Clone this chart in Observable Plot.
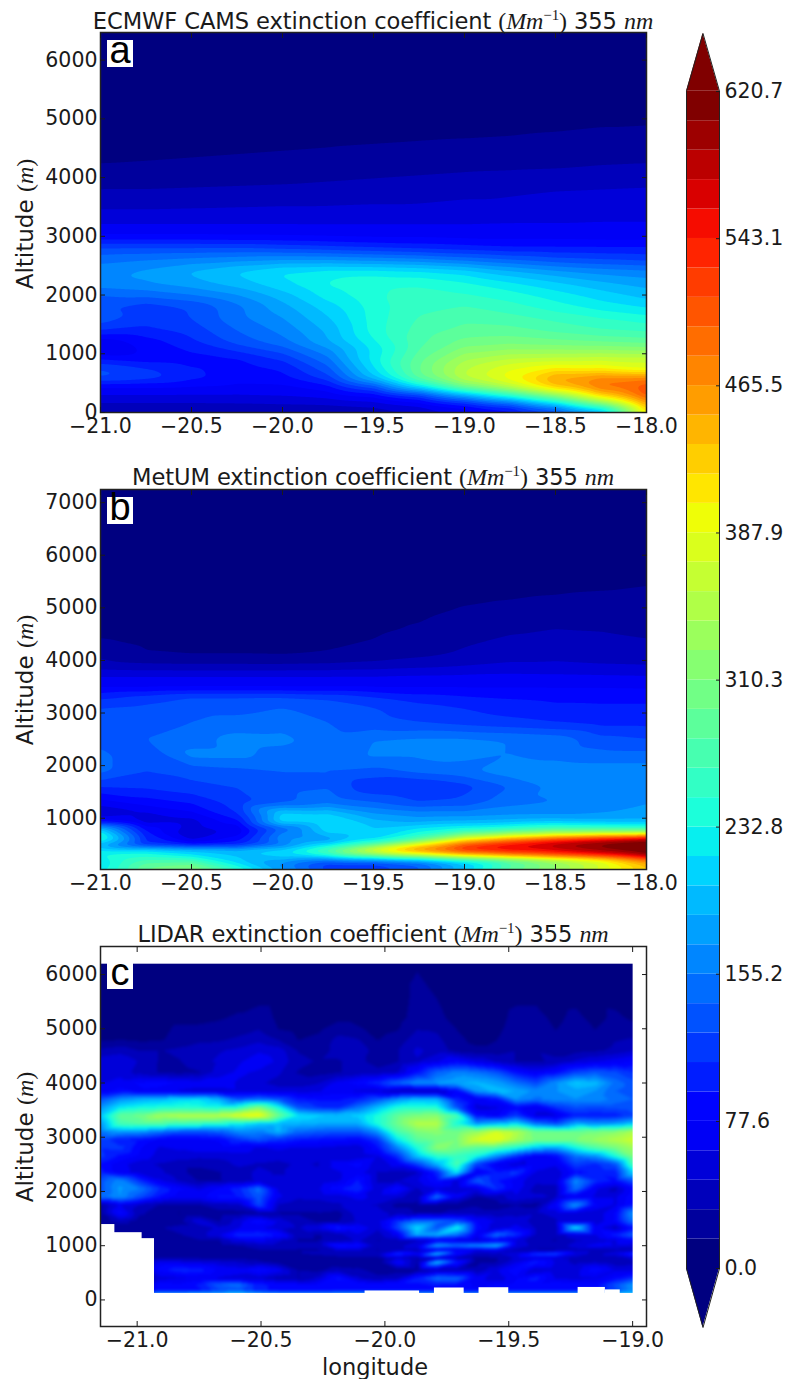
<!DOCTYPE html>
<html><head><meta charset="utf-8">
<script src="https://cdn.jsdelivr.net/npm/d3@7"></script>
<script src="https://cdn.jsdelivr.net/npm/@observablehq/plot@0.6"></script>
<style>
html,body{margin:0;padding:0;background:#fff}
#page{position:relative;width:785px;height:1379px;overflow:hidden;font-family:"DejaVu Sans";color:#1a1a1a}
#page>div.p{position:absolute}
.t{position:absolute;left:0;width:746px;text-align:center;font-size:22.6px;white-space:nowrap;line-height:24px;letter-spacing:-.1px}
.m{font-family:"Liberation Serif";font-style:italic;font-size:24px}
.m.u{font-style:normal}
sup{font-size:15px;line-height:0;font-family:"Liberation Serif"}
.yl{position:absolute;left:25px;font-size:23px;white-space:nowrap;transform:translate(-50%,-50%) rotate(-90deg)}
.yl .m{font-size:24px}
.tag{position:absolute;left:107px;width:26px;height:27px;background:#fff;color:#000;font-family:"Liberation Sans";font-size:38px;line-height:26px;text-align:center}
.tag span{position:relative;top:-3px}
</style></head><body><div id="page"></div>
<script>
const titles = ["ECMWF CAMS extinction coefficient", "MetUM extinction coefficient", "LIDAR extinction coefficient"];
const panelTags = ["a", "b", "c"];
const colorbarTicks = [0, 77.6, 155.2, 232.8, 310.3, 387.9, 465.5, 543.1, 620.7];
const levelStep = 15.52;
const levelCount = 40;
const arrowTipHigh = 651.3, arrowTipLow = -31.1;

const aLon = [-21,-20.75,-20.5,-20.25,-20,-19.75,-19.5,-19.25,-19,-18.75,-18.5,-18.25,-18];
const aAlt = [6470,5500,5000,4600,4200,3800,3500,3200,3000,2800,2600,2400,2200,2000,1800,1600,1400,1200,1050,900,750,600,450,300,150,0];
const aRows = [
[5,5,5,5,5,5,5,5,5,5,5,5,5],
[5,5,5,5,5,5,5,5,6,6,6,6,7],
[6,6,6,6,6,7,7,8,8,9,10,12,13],
[10,10,11,12,13,14,15,16,17,18,20,22,22],
[16,17,18,19,20,21,23,25,27,28,29,31,32],
[31,31,32,33,34,36,38,40,42,44,46,47,48],
[44,44,45,46,47,47,48,48,50,50,52,52,52],
[62,62,62,62,62,62,62,62,62,63,63,64,64],
[80,80,80,78,78,76,74,74,72,72,72,70,70],
[125,125,125,125,120,115,110,105,100,95,95,95,95],
[150,155,160,165,170,170,165,160,150,140,130,125,120],
[165,175,190,205,220,225,225,220,210,190,175,165,160],
[165,170,180,195,215,235,245,245,235,220,205,190,180],
[140,145,155,170,195,225,245,255,250,240,225,210,195],
[125,115,125,150,180,210,240,260,265,255,240,225,215],
[135,115,125,150,170,200,240,265,275,270,260,250,240],
[110,105,115,140,160,190,240,270,285,285,275,265,260],
[65,85,105,130,150,185,230,275,300,305,300,295,290],
[60,80,95,110,130,165,220,280,320,330,330,330,325],
[95,85,85,90,110,150,225,290,340,360,365,370,370],
[125,110,95,85,95,135,215,295,355,385,405,400,380],
[130,120,100,85,90,120,200,290,360,400,455,470,470],
[80,80,78,75,75,90,135,225,310,365,440,490,510],
[62,62,62,62,64,70,85,120,190,255,330,430,510],
[45,45,45,46,48,50,55,70,100,140,210,310,450],
[30,30,30,30,30,30,35,45,60,75,110,170,400]];

const bLon = [-21,-20.75,-20.5,-20.25,-20,-19.75,-19.5,-19.25,-19,-18.75,-18.5,-18.25,-18];
const bAlt = [7250,6000,5500,5000,4600,4300,4100,3900,3700,3500,3300,3100,2800,2500,2200,1900,1600,1300,1100,950,800,700,600,500,400,300,200,100,25];
const bRows = [
[5,5,5,5,5,5,5,5,5,5,5,5,5],
[5,5,5,5,5,5,5,5,5,5,5,5,6],
[6,6,6,6,6,6,7,8,9,10,11,12,14],
[8,7,7,7,7,8,10,12,16,18,20,22,23],
[12,10,9,9,9,10,13,17,22,28,31,30,28],
[18,14,13,13,13,14,17,23,30,36,38,36,33],
[28,17,15.5,15.5,15,17,22,28,34,40,42,40,38],
[38,35,34,34,34,35,38,42,46,50,50,48,47],
[62,62,62,62,62,62,62,64,65,66,65,64,63],
[75,75,76,76,76,76,76,76,76,76,76,76,75],
[105,115,125,125,125,120,110,100,95,92,90,90,90],
[125,128,135,135,140,135,125,115,108,100,96,95,95],
[125,132,140,145,148,140,130,125,120,115,110,105,105],
[132,140,148,162,160,145,155,158,158,155,150,130,125],
[145,125,160,160,148,140,158,158,157,155,150,145,145],
[145,125,130,135,140,140,135,145,152,165,165,165,165],
[110,112,120,125,135,138,110,105,118,140,160,170,165],
[70,85,95,115,135,150,140,125,130,150,155,160,170],
[45,60,75,110,205,200,170,160,160,165,165,170,175],
[80,50,55,90,215,220,190,180,185,190,195,190,190],
[195,90,55,65,140,215,205,220,235,250,270,265,260],
[235,100,45,70,160,200,200,240,300,340,370,390,400],
[245,110,60,90,170,170,215,280,400,465,520,560,600],
[180,105,90,100,150,215,285,400,505,555,590,615,625],
[215,215,200,190,210,280,395,480,540,560,570,600,630],
[235,240,215,200,215,250,310,360,425,470,510,545,600],
[220,265,265,205,180,150,165,190,240,290,340,390,480],
[215,290,300,230,160,110,110,130,190,270,320,370,430],
[230,295,320,255,180,125,120,145,210,290,330,380,440]];

const cLon = [-21.15,-21.07,-20.99,-20.91,-20.83,-20.75,-20.67,-20.59,-20.51,-20.43,-20.35,-20.27,-20.19,-20.11,-20.03,-19.95,-19.87,-19.79,-19.71,-19.63,-19.55,-19.47,-19.39,-19.31,-19.23,-19.15,-19.07,-19];
const cAlt = [6200,5600,5200,5000,4800,4600,4400,4200,4000,3850,3700,3550,3400,3250,3100,2950,2800,2650,2500,2350,2200,2050,1900,1750,1600,1450,1330,1200,1100,1000,920,850,770,700,550,400,280,175,130];
const cRows = [
[8,8,8,8,8,8,8,8,8,8,8,8,8,8,8,8,14,12,8,8,8,8,8,8,8,8,8,8],
[8,8,8,8,8,8,8,8,8,8,8,8,8,8,8,8,20,15,8,8,8,12,12,8,10,10,8,8],
[8,8,8,10,12,12,14,18,25,12,8,8,10,10,8,10,22,20,10,8,10,20,20,12,20,10,20,12],
[8,8,10,12,18,18,20,22,30,15,10,12,25,18,10,14,30,28,15,8,12,22,22,15,22,15,25,22],
[12,15,12,14,20,25,28,35,42,30,15,20,35,32,15,22,40,35,20,10,15,28,28,20,24,20,30,32],
[35,40,30,30,35,45,45,50,60,55,30,25,35,40,25,30,50,40,25,20,20,30,30,25,25,28,35,45],
[55,60,45,30,30,40,50,60,70,60,35,30,30,35,25,30,45,60,80,60,45,30,28,35,50,60,70,80],
[60,55,40,30,25,30,55,65,60,50,30,25,30,35,35,45,90,140,160,150,130,90,70,85,120,135,125,110],
[60,70,80,85,75,70,70,60,50,40,38,45,70,85,105,140,170,175,185,190,180,150,125,170,205,195,150,130],
[70,85,75,70,60,55,55,60,60,55,55,60,70,60,55,40,35,40,80,170,195,185,165,170,180,170,140,130],
[130,170,185,195,210,215,190,130,150,130,95,90,90,100,130,170,195,190,100,70,90,170,150,165,170,165,150,140],
[170,220,235,240,245,240,235,250,310,235,130,110,105,150,195,240,245,240,130,55,60,85,65,110,130,125,130,135],
[200,290,300,340,350,355,360,385,400,300,220,205,200,205,240,290,310,320,270,90,75,115,60,60,100,95,100,120],
[170,270,280,280,265,260,250,230,205,195,190,185,185,185,240,300,350,350,240,170,190,215,150,125,180,170,175,200],
[150,175,170,150,130,130,135,165,160,190,145,135,130,130,170,270,310,320,300,330,375,350,300,295,300,305,320,345],
[120,95,90,75,75,75,80,110,130,110,95,90,85,80,110,220,285,300,310,375,390,340,305,300,310,330,350,370],
[110,115,80,60,65,75,70,70,60,65,60,60,55,50,90,160,240,320,300,285,270,240,195,180,230,275,305,335],
[115,90,75,55,55,50,50,55,55,55,55,50,50,50,60,110,200,250,260,235,170,110,70,85,150,170,240,310],
[90,70,50,45,35,35,40,50,45,40,50,45,70,85,50,70,120,190,270,120,70,55,70,65,120,105,130,270],
[100,70,55,50,35,25,30,40,50,45,50,50,60,70,45,40,45,100,220,70,95,115,60,50,90,95,100,210],
[130,165,110,65,45,30,30,35,50,50,50,50,60,95,45,45,60,90,55,135,95,70,50,55,165,110,90,130],
[130,175,155,110,80,60,80,105,150,60,50,60,90,110,50,90,45,60,50,60,110,70,40,40,150,65,40,80],
[150,170,130,90,70,70,95,95,135,65,50,50,50,70,55,50,40,150,70,30,35,60,50,45,70,60,60,90],
[25,65,45,30,30,30,40,45,125,45,35,40,45,50,45,25,25,25,25,30,25,30,25,80,175,80,60,95],
[25,85,35,20,15,20,25,25,30,30,30,30,25,55,55,40,30,30,35,35,35,40,45,50,60,50,80,170],
[20,40,20,20,25,60,30,55,90,60,35,30,30,50,55,110,150,145,130,80,60,55,40,45,55,50,80,150],
[20,20,20,30,35,35,50,60,65,50,45,60,100,80,50,120,215,130,230,90,50,70,45,40,220,70,40,90],
[20,20,20,25,30,40,60,110,110,90,35,30,40,60,40,70,190,190,150,70,150,110,45,35,60,60,100,140],
[20,20,20,20,25,30,30,60,70,50,30,30,35,50,30,40,45,70,60,50,70,55,35,30,45,50,60,80],
[20,20,20,20,25,25,25,30,40,40,35,35,95,90,35,40,60,180,150,170,190,60,40,35,55,70,60,55],
[20,20,20,20,20,20,20,25,30,30,30,30,50,50,30,40,40,70,60,60,70,40,30,30,40,40,40,40],
[20,20,20,25,20,20,20,20,25,25,30,35,40,40,40,110,70,200,90,40,45,60,115,125,60,40,60,110],
[20,20,20,30,30,30,30,30,25,20,20,20,25,25,25,50,30,50,40,25,30,50,60,50,40,35,35,50],
[20,20,20,65,60,55,50,45,35,25,15,15,15,20,20,80,30,200,100,25,30,60,100,60,40,45,35,40],
[20,20,20,85,105,100,75,70,90,70,30,25,40,35,25,25,25,40,35,35,60,90,45,50,55,90,60,60],
[20,20,20,55,60,65,60,55,50,35,30,50,95,50,35,45,100,150,145,70,50,75,100,60,55,60,85,110],
[20,20,20,85,80,95,140,150,100,85,80,80,85,90,85,90,90,95,90,75,80,85,85,90,85,85,130,175],
[20,20,20,90,85,90,120,130,100,85,80,80,85,90,85,90,85,85,85,80,80,85,85,85,85,85,120,170],
[190,190,190,190,190,195,200,210,190,185,185,185,190,190,190,190,190,190,190,190,190,190,190,190,190,190,190,200]];
const cExtentLon = [-21.15, -19], cExtentAlt = [130, 6200];
// white cells where the lidar has no data: lon from, lon to, altitude top
const cGapFrom = [-21.15,-21.15,-21.15,-20.08,-19.80,-19.62,-19.22,-19.11];
const cGapTo   = [-21.09,-20.98,-20.93,-19.86,-19.68,-19.50,-19.11,-19.05];
const cGapTop  = [1390,1240,1130,165,220,225,230,185];

const panelDomains = [
  {x:[-21,-18], y:[0,6470], ticksX:[-21,-20.5,-20,-19.5,-19,-18.5,-18], ticksY:[0,1000,2000,3000,4000,5000,6000]},
  {x:[-21,-18], y:[25,7250], ticksX:[-21,-20.5,-20,-19.5,-19,-18.5,-18], ticksY:[1000,2000,3000,4000,5000,6000,7000]},
  {x:[-21.148,-18.944], y:[-490,6517], ticksX:[-21,-20.5,-20,-19.5,-19], ticksY:[0,1000,2000,3000,4000,5000,6000]}
];

// matplotlib "jet" channel stops
const jetR=[[0,0],[.35,0],[.66,1],[.89,1],[1,.5]], jetG=[[0,0],[.125,0],[.375,1],[.64,1],[.91,0],[1,0]], jetB=[[0,.5],[.11,1],[.34,1],[.65,0],[1,0]];
const ch=(s,t)=>d3.scaleLinear(s.map(d=>d[0]),s.map(d=>d[1]))(t);
const jet=t=>`rgb(${Math.round(255*ch(jetR,t))},${Math.round(255*ch(jetG,t))},${Math.round(255*ch(jetB,t))})`;
const levels=d3.range(levelCount).map(i=>i*levelStep);
const bandColors=levels.map((_,i)=>jet(i/(levelCount-1)));
const colorScale={type:"threshold",domain:levels.slice(1),range:bandColors};

const tidy=(lon,alt,rows)=>rows.flatMap((r,j)=>r.map((v,i)=>({x:lon[i],y:alt[j],v})));
const page=document.getElementById("page");
const frameTop=[32,489,946], frameH=380;
const fs=20.5, ink="#1a1a1a";

function axes(d){
  return [
    Plot.axisX(d.ticksX,{anchor:"bottom",tickSize:-5,tickPadding:11,tickFormat:".1f",label:null,fontSize:fs,color:ink}),
    Plot.axisX(d.ticksX,{anchor:"top",tickSize:-5,tickFormat:()=>"",label:null,color:ink}),
    Plot.axisY(d.ticksY,{anchor:"left",tickSize:-5,tickPadding:8,tickFormat:"d",label:null,fontSize:fs,color:ink}),
    Plot.axisY(d.ticksY,{anchor:"right",tickSize:-5,tickFormat:()=>"",label:null,color:ink})
  ];
}
function panel(k,marks){
  const d=panelDomains[k];
  const svg=Plot.plot({width:680,height:frameH+10+40,marginLeft:100,marginRight:34,marginTop:10,marginBottom:40,
    style:{background:"transparent",fontFamily:"DejaVu Sans",overflow:"visible"},
    x:{domain:d.x},y:{domain:d.y},color:colorScale,
    marks:[...marks,Plot.frame({stroke:"#222",strokeWidth:1.5}),...axes(d)]});
  const w=document.createElement("div");w.className="p";w.style.left="0";w.style.top=(frameTop[k]-10)+"px";w.append(svg);page.append(w);
}
const contourOf=(lon,alt,rows,blur)=>Plot.contour(tidy(lon,alt,rows),{x:"x",y:"y",value:"v",fill:"value",stroke:"none",thresholds:levels,interpolate:"barycentric",pixelSize:1,blur});
panel(0,[contourOf(aLon,aAlt,aRows,3)]);
panel(1,[contourOf(bLon,bAlt,bRows,2)]);
const gaps=cGapFrom.map((f,i)=>({x1:f,x2:cGapTo[i],y2:cGapTop[i],y1:100}));
panel(2,[
  Plot.raster(tidy(cLon,cAlt,cRows),{x:"x",y:"y",fill:"v",interpolate:"barycentric",pixelSize:1,blur:1,
    x1:cExtentLon[0],x2:cExtentLon[1],y1:cExtentAlt[0],y2:cExtentAlt[1]}),
  Plot.rect(gaps,{x1:"x1",x2:"x2",y1:"y1",y2:"y2",fill:"white"})
]);

// colour bar
const cb=Plot.plot({width:115,height:1314,marginLeft:16,marginRight:66,marginTop:10,marginBottom:10,
  style:{background:"transparent",fontFamily:"DejaVu Sans",overflow:"visible"},
  x:{domain:[0,1],axis:null},y:{domain:[arrowTipLow,arrowTipHigh],axis:null},color:colorScale,
  marks:[
    Plot.rect(levels,{x1:0,x2:1,y1:d=>d,y2:d=>d+levelStep,fill:d=>d}),
    Plot.areaX([{a:0,b:1,y:levelStep*levelCount},{a:.5,b:.5,y:arrowTipHigh}],{x1:"a",x2:"b",y:"y",fill:bandColors[levelCount-1]}),
    Plot.areaX([{a:0,b:1,y:0},{a:.5,b:.5,y:arrowTipLow}],{x1:"a",x2:"b",y:"y",fill:bandColors[0]}),
    Plot.line([[0,0],[0,levelStep*levelCount],[.5,arrowTipHigh],[1,levelStep*levelCount],[1,0],[.5,arrowTipLow],[0,0]],{stroke:"#222",strokeWidth:1}),
    Plot.axisY(colorbarTicks,{anchor:"right",tickSize:-4,tickPadding:9,tickFormat:".1f",label:null,fontSize:fs,color:ink})
  ]});
const cw=document.createElement("div");cw.className="p";cw.style.left="670px";cw.style.top="23px";cw.append(cb);page.append(cw);

// text
const titleTop=[9,465,922];
titles.forEach((t,k)=>{
  const e=document.createElement("div");e.className="t";e.style.top=titleTop[k]+"px";
  e.innerHTML=`${t} <span class="m u">(</span><span class="m">Mm</span><sup>−1</sup><span class="m u">)</span> 355 <span class="m">nm</span>`;
  page.append(e);
});
[224,680,1137].forEach(c=>{
  const e=document.createElement("div");e.className="yl";e.style.top=c+"px";
  e.innerHTML=`Altitude <span class="m u">(</span><span class="m">m</span><span class="m u">)</span>`;
  page.append(e);
});
const tagTop=[40,497,962];
panelTags.forEach((t,k)=>{
  const e=document.createElement("div");e.className="tag";e.style.top=tagTop[k]+"px";
  e.innerHTML=`<span>${t}</span>`;page.append(e);
});
const xl=document.createElement("div");
xl.textContent="longitude";xl.style.cssText="position:absolute;left:375px;top:1367px;transform:translate(-50%,-50%);font-size:22.5px";
page.append(xl);
</script></body></html>
